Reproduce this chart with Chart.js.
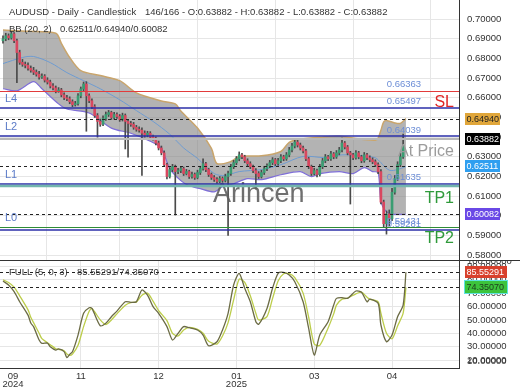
<!DOCTYPE html>
<html>
<head>
<meta charset="utf-8">
<script src="https://cdn.jsdelivr.net/npm/chart.js@4.4.1/dist/chart.umd.min.js"></script>
<style>
  html, body { margin: 0; padding: 0; background: #fff; }
  #wrap { position: relative; width: 520px; height: 390px; }
  .box { position: absolute; left: 0; width: 520px; }
</style>
</head>
<body>
<div id="wrap">
  <div class="box" style="top:0;height:261px"><canvas id="main"></canvas></div>
  <div class="box" style="top:261px;height:129px"><canvas id="stoch"></canvas></div>
</div>
<script>
// daily candles, oldest first
const opens = [
  0.6890,0.6900,0.6915,0.6905,0.6925,0.6890,0.6830,0.6780,0.6770,0.6765,
  0.6750,0.6740,0.6730,0.6720,0.6705,0.6710,0.6690,0.6680,0.6660,0.6650,
  0.6635,0.6640,0.6615,0.6600,0.6595,0.6580,0.6565,0.6570,0.6610,0.6645,
  0.6670,0.6610,0.6585,0.6555,0.6510,0.6480,0.6465,0.6495,0.6515,0.6525,
  0.6500,0.6515,0.6505,0.6490,0.6510,0.6480,0.6470,0.6465,0.6450,0.6440,
  0.6435,0.6420,0.6410,0.6420,0.6400,0.6395,0.6370,0.6345,0.6320,0.6260,
  0.6200,0.6235,0.6250,0.6225,0.6230,0.6240,0.6215,0.6225,0.6200,0.6210,
  0.6195,0.6220,0.6240,0.6265,0.6235,0.6210,0.6195,0.6185,0.6175,0.6190,
  0.6180,0.6200,0.6215,0.6250,0.6270,0.6290,0.6310,0.6300,0.6280,0.6265,
  0.6250,0.6230,0.6215,0.6200,0.6220,0.6240,0.6255,0.6270,0.6285,0.6265,
  0.6280,0.6300,0.6290,0.6310,0.6335,0.6355,0.6375,0.6360,0.6345,0.6330,
  0.6290,0.6250,0.6215,0.6230,0.6210,0.6250,0.6280,0.6300,0.6290,0.6315,
  0.6300,0.6320,0.6335,0.6370,0.6350,0.6320,0.6310,0.6295,0.6320,0.6300,
  0.6280,0.6310,0.6295,0.6285,0.6275,0.6260,0.6225,0.6070,0.5960,0.6010,
  0.5985,0.6120,0.6190,0.6260,0.6300,0.63882
];
const highs = [
  0.6915,0.6928,0.6925,0.6938,0.6932,0.6898,0.6842,0.6795,0.6782,0.6778,
  0.6762,0.6755,0.6742,0.6735,0.6722,0.6718,0.6702,0.6690,0.6672,0.6660,
  0.6652,0.6648,0.6625,0.6612,0.6605,0.6590,0.6582,0.6622,0.6655,0.6680,
  0.6682,0.6620,0.6595,0.6565,0.6520,0.6492,0.6508,0.6528,0.6536,0.6532,
  0.6526,0.6524,0.6515,0.6522,0.6518,0.6490,0.6480,0.6475,0.6460,0.6452,
  0.6448,0.6432,0.6430,0.6428,0.6410,0.6402,0.6380,0.6355,0.6330,0.6268,
  0.6245,0.6262,0.6258,0.6242,0.6252,0.6248,0.6236,0.6232,0.6222,0.6218,
  0.6232,0.6252,0.6290,0.6272,0.6242,0.6218,0.6205,0.6195,0.6200,0.6198,
  0.6212,0.6228,0.6262,0.6282,0.6302,0.6325,0.6318,0.6308,0.6290,0.6275,
  0.6258,0.6240,0.6225,0.6232,0.6252,0.6265,0.6282,0.6296,0.6292,0.6292,
  0.6312,0.6308,0.6322,0.6348,0.6368,0.6394,0.6385,0.6370,0.6355,0.6338,
  0.6298,0.6258,0.6242,0.6238,0.6262,0.6292,0.6312,0.6308,0.6328,0.6322,
  0.6332,0.6348,0.6395,0.6378,0.6358,0.6328,0.6318,0.6332,0.6328,0.6308,
  0.6322,0.6318,0.6305,0.6295,0.6285,0.6270,0.6235,0.6080,0.6025,0.6030,
  0.6140,0.6205,0.6275,0.6318,0.6415,0.63882
];
const lows = [
  0.6878,0.6890,0.6895,0.6898,0.6880,0.6677,0.6770,0.6760,0.6752,0.6740,
  0.6730,0.6718,0.6710,0.6695,0.6698,0.6680,0.6670,0.6650,0.6640,0.6625,
  0.6628,0.6605,0.6590,0.6585,0.6570,0.6555,0.6558,0.6562,0.6600,0.6635,
  0.6430,0.6575,0.6545,0.6500,0.6400,0.6455,0.6458,0.6485,0.6505,0.6490,
  0.6492,0.6495,0.6480,0.6482,0.6340,0.6298,0.6455,0.6440,0.6430,0.6425,
  0.6205,0.6400,0.6402,0.6390,0.6385,0.6360,0.6335,0.6310,0.6250,0.6188,
  0.6192,0.6225,0.6004,0.6215,0.6220,0.6205,0.6208,0.6190,0.6192,0.6185,
  0.6188,0.6210,0.6232,0.6225,0.6200,0.6185,0.6175,0.6165,0.6168,0.6170,
  0.6172,0.5900,0.6205,0.6240,0.6260,0.6280,0.6290,0.6270,0.6255,0.6240,
  0.6220,0.6135,0.6190,0.6192,0.6210,0.6230,0.6245,0.6260,0.6255,0.6258,
  0.6270,0.6280,0.6282,0.6300,0.6325,0.6345,0.6350,0.6335,0.6320,0.6280,
  0.6240,0.6205,0.6208,0.6198,0.6202,0.6240,0.6270,0.6280,0.6282,0.6290,
  0.6292,0.6310,0.6325,0.6340,0.6310,0.6060,0.6285,0.6288,0.6290,0.6270,
  0.6272,0.6285,0.6275,0.6265,0.6250,0.6215,0.6060,0.5945,0.5907,0.5950,
  0.5975,0.6110,0.6180,0.6250,0.6292,0.63882
];
const closes = [
  0.6900,0.6915,0.6905,0.6925,0.6890,0.6830,0.6780,0.6770,0.6765,0.6750,
  0.6740,0.6730,0.6720,0.6705,0.6710,0.6690,0.6680,0.6660,0.6650,0.6635,
  0.6640,0.6615,0.6600,0.6595,0.6580,0.6565,0.6570,0.6610,0.6645,0.6670,
  0.6610,0.6585,0.6555,0.6510,0.6480,0.6465,0.6495,0.6515,0.6525,0.6500,
  0.6515,0.6505,0.6490,0.6510,0.6480,0.6470,0.6465,0.6450,0.6440,0.6435,
  0.6420,0.6410,0.6420,0.6400,0.6395,0.6370,0.6345,0.6320,0.6260,0.6200,
  0.6235,0.6250,0.6225,0.6230,0.6240,0.6215,0.6225,0.6200,0.6210,0.6195,
  0.6220,0.6240,0.6265,0.6235,0.6210,0.6195,0.6185,0.6175,0.6190,0.6180,
  0.6200,0.6215,0.6250,0.6270,0.6290,0.6310,0.6300,0.6280,0.6265,0.6250,
  0.6230,0.6215,0.6200,0.6220,0.6240,0.6255,0.6270,0.6285,0.6265,0.6280,
  0.6300,0.6290,0.6310,0.6335,0.6355,0.6375,0.6360,0.6345,0.6330,0.6290,
  0.6250,0.6215,0.6230,0.6210,0.6250,0.6280,0.6300,0.6290,0.6315,0.6300,
  0.6320,0.6335,0.6370,0.6350,0.6320,0.6310,0.6295,0.6320,0.6300,0.6280,
  0.6310,0.6295,0.6285,0.6275,0.6260,0.6225,0.6070,0.5960,0.6010,0.5985,
  0.6120,0.6190,0.6260,0.6300,0.6355,0.63882
];
const totalBars = 166;

// bollinger bands (20, 2), read at bar indexes
const upperIdx = [0,9,19,21,24,28,35,42,48,57,62,64,70,75,77,82,85,93,100,103,107,114,121,129,134,135,136,137,138,141,143,145];
const upperVals = [0.6944,0.6938,0.6928,0.6877,0.6805,0.6738,0.6713,0.6687,0.6625,0.6584,0.6569,0.6533,0.6446,0.6343,0.6266,0.6276,0.6302,0.6305,0.6327,0.6374,0.6389,0.6399,0.6404,0.6389,0.6384,0.6395,0.6435,0.6478,0.6485,0.6472,0.6470,0.6494];
const lowerIdx = [0,5,11,14,20,23,31,39,46,53,57,60,64,67,71,76,79,83,88,93,100,107,111,114,121,126,130,133,135,136,138,140,145];
const lowerVals = [0.6646,0.6636,0.6682,0.6646,0.6569,0.6543,0.6523,0.6446,0.6420,0.6379,0.6343,0.6240,0.6179,0.6153,0.6138,0.6122,0.6148,0.6163,0.6189,0.6184,0.6209,0.6225,0.6199,0.6215,0.6225,0.6215,0.6245,0.6225,0.6220,0.6071,0.6020,0.6009,0.60082];
const midIdx = [0,7,11,17,23,29,35,42,48,54,60,65,70,76,80,85,93,100,108,116,122,129,134,136,139,142,145];
const midVals = [0.6774,0.6805,0.6810,0.6779,0.6728,0.6687,0.6646,0.6590,0.6535,0.6480,0.6415,0.6345,0.6292,0.6215,0.6205,0.6225,0.6235,0.6260,0.6302,0.6296,0.6310,0.6305,0.6295,0.6270,0.6232,0.6235,0.62511];
const bbNow = [0.62511, 0.64940, 0.60082]; // mid / upper / lower

// full stochastic %K / %D
const stochIdx = [0,2,4,6,9,10,11,13,14,16,17,19,20,22,23,24,25,27,29,31,32,35,37,39,41,44,46,48,50,52,54,56,59,61,63,65,67,70,72,74,77,79,81,83,85,87,89,91,92,95,97,99,101,103,105,108,110,112,114,117,119,120,122,124,127,129,131,132,135,136,138,140,142,144,145];
const kVals = [79.0,76.1,71.1,63.6,53.6,47.7,45.0,35.0,32.5,32.7,30.0,27.5,28.3,26.3,21.8,24.3,26.3,38.7,54.9,59.1,58.6,45.7,47.5,52.4,56.6,63.6,63.1,63.6,72.3,68.6,59.9,54.9,45.0,35.0,40.0,45.0,44.2,42.5,38.7,30.7,33.7,42.5,54.9,76.1,84.8,73.6,63.6,48.7,46.7,58.6,73.6,84.8,85.5,83.5,78.5,63.6,43.7,23.8,38.7,48.7,61.1,66.1,66.6,66.1,71.6,70.6,63.6,65.6,62.4,46.2,33.7,38.7,52.4,61.1,85.55291];
const dVals = [80.0,78.0,74.5,68.0,57.5,52.0,48.0,40.0,36.0,33.0,31.5,28.5,28.0,27.0,24.5,23.5,24.5,31.0,45.0,56.5,58.5,50.0,46.5,50.0,54.5,61.0,63.0,63.3,68.5,70.0,64.0,57.0,49.5,40.0,38.0,42.5,44.5,43.0,40.0,34.0,32.0,38.0,48.0,65.0,80.5,78.0,68.0,55.0,50.0,52.5,66.0,79.0,84.5,84.5,81.5,70.0,52.0,32.0,31.0,44.0,54.5,61.0,65.5,66.3,69.5,70.8,67.0,65.5,63.5,55.0,40.0,36.0,45.5,55.0,74.3507];
const stochNow = [85.55291, 74.35070];

// drawn levels
const levelPrices = [0.66363, 0.65497, 0.64039, 0.63882, 0.61635, 0.61500, 0.59431, 0.59281];
const levelLeft = ['', 'L4', 'L2', '', 'L1', '', 'L0', ''];
const levelRight = ['SL', '', '', 'At Price', '', 'TP1', 'TP2', ''];

// axis ticks
const priceTicks = [0.58, 0.59, 0.60, 0.61, 0.62, 0.63, 0.64, 0.65, 0.66, 0.67, 0.68, 0.69, 0.70];
const stochTicks = [20, 30, 40, 50, 60, 70, 80, 90];
const xTickIdx = [3.6, 28, 56, 84, 112, 140];
const xTickText = [['09', '2024'], '11', '12', ['01', '2025'], '03', '04'];

const FONT = '"Liberation Sans", Arial, sans-serif';
Chart.defaults.font.family = FONT;

const last = closes.length - 1;
const pts = (idx, vals) => idx.map((x, i) => ({ x: x, y: vals[i] }));

const levelStyle = [
  { color: '#e23b3b', width: 1, price: true, text: '#e02424' },
  { color: '#2b2fa8', width: 1.5, price: true },
  { color: '#2b2fa8', width: 1.5, price: true },
  { color: '#b8b8b8', width: 2, price: false, text: '#9c9c9c' },
  { color: '#2b2fa8', width: 1.5, price: true },
  { color: '#72b5ad', width: 2.5, price: false, text: '#2f9a3a' },
  { color: '#2e8b36', width: 1, price: true, text: '#2f9a3a' },
  { color: '#2b2fa8', width: 1.5, price: true }
];

function xAxis(showLabels) {
  return {
    type: 'linear', min: -1.08, max: 164.1, offset: false,
    grid: { color: c => c.index === 0 ? 'rgba(0,0,0,0)' : '#e6e6e6', drawTicks: false },
    border: { display: showLabels, color: '#333' },
    afterBuildTicks: s => { s.ticks = xTickIdx.map(v => ({ value: v })); },
    ticks: {
      display: showLabels, padding: 4, maxRotation: 0, autoSkip: false, color: '#333',
      font: { size: 9.5, lineHeight: 0.85 },
      callback: (v, i) => xTickText[i]
    },
    afterFit: s => { s.height = showLabels ? 22 : 0; s.paddingLeft = 0; s.paddingRight = 0; }
  };
}

function yAxis(min, max, tickVals) {
  return {
    position: 'right', min: min, max: max,
    afterBuildTicks: s => { s.ticks = tickVals.map(v => ({ value: v })); },
    grid: { color: '#e6e6e6', drawTicks: false },
    border: { color: '#333' },
    ticks: { color: '#333', padding: 8, font: { size: 9.5 }, callback: v => v.toFixed(5) },
    afterFit: s => { s.width = 61; s.paddingTop = 0; s.paddingBottom = 0; }
  };
}

function hline(ctx, a, yp, color, width, dash) {
  const y = width % 2 === 1 ? Math.round(yp) + 0.5 : Math.round(yp);
  ctx.beginPath();
  ctx.setLineDash(dash || []);
  ctx.strokeStyle = color;
  ctx.lineWidth = width;
  ctx.moveTo(a.left, y);
  ctx.lineTo(a.right, y);
  ctx.stroke();
  ctx.setLineDash([]);
}

function tag(ctx, a, yp, text, bg, fg, w) {
  ctx.fillStyle = bg;
  ctx.fillRect(a.right + 6, Math.round(yp) - 6, w, 12);
  ctx.fillStyle = fg;
  ctx.font = '9px ' + FONT;
  ctx.textAlign = 'left';
  ctx.textBaseline = 'middle';
  ctx.fillText(text, a.right + 7.5, Math.round(yp) + 0.5);
}

const mainOverlay = {
  id: 'mainOverlay',
  afterDatasetsDraw(chart) {
    const { ctx, chartArea: a, scales: { x, y } } = chart;
    ctx.save();
    // watermark
    ctx.font = '27px ' + FONT;
    ctx.fillStyle = 'rgba(95,95,95,0.9)';
    ctx.textAlign = 'left';
    ctx.textBaseline = 'middle';
    ctx.fillText('Arincen', a.left + a.width * 0.464, a.top + a.height * 0.745);

    // bollinger current values
    bbNow.forEach(v => hline(ctx, a, y.getPixelForValue(v), '#222', 1, [3, 3]));

    const xl = x.getPixelForValue(last);
    levelPrices.forEach((p, i) => {
      const st = levelStyle[i];
      const yp = y.getPixelForValue(p);
      hline(ctx, a, yp, st.color, st.width);
      ctx.textBaseline = 'middle';
      if (st.price) {
        ctx.font = '9.5px ' + FONT;
        ctx.fillStyle = '#6d8ed6';
        ctx.textAlign = 'center';
        ctx.fillText(p.toFixed(5), xl - 2, yp - 6);
      }
      if (levelLeft[i]) {
        ctx.font = '11px ' + FONT;
        ctx.fillStyle = '#5b7bc8';
        ctx.textAlign = 'left';
        ctx.fillText(levelLeft[i], a.left + 5, yp - 9);
      }
      if (levelRight[i]) {
        ctx.font = '16px ' + FONT;
        ctx.fillStyle = st.text;
        ctx.textAlign = 'right';
        ctx.fillText(levelRight[i], a.right - 5, yp + 12);
      }
    });
    ctx.restore();
  },
  afterDraw(chart) {
    const { ctx, chartArea: a, scales: { y } } = chart;
    ctx.save();
    tag(ctx, a, y.getPixelForValue(bbNow[1]), bbNow[1].toFixed(5), '#e0a63a', '#222', 35);
    tag(ctx, a, y.getPixelForValue(closes[last]), closes[last].toFixed(5), '#000', '#fff', 35);
    tag(ctx, a, y.getPixelForValue(bbNow[0]), bbNow[0].toFixed(5), '#2f9ff0', '#fff', 35);
    tag(ctx, a, y.getPixelForValue(bbNow[2]), bbNow[2].toFixed(5), '#6a48e6', '#fff', 35);

    ctx.font = '9.5px ' + FONT;
    ctx.fillStyle = '#333';
    ctx.textAlign = 'left';
    ctx.textBaseline = 'middle';
    ctx.fillText('AUDUSD - Daily - Candlestick', 9, 12);
    ctx.fillText((last + 1) + '/' + totalBars + ' - O:' + opens[last].toFixed(5) + ' - H:' + highs[last].toFixed(5) +
      ' - L:' + lows[last].toFixed(5) + ' - C:' + closes[last].toFixed(5), 145, 12);
    ctx.fillText('BB (20, 2)', 9, 29);
    ctx.fillText(bbNow.map(v => v.toFixed(5)).join('/'), 60, 29);

    // panel separator
    ctx.strokeStyle = '#333';
    ctx.lineWidth = 1;
    ctx.beginPath();
    ctx.moveTo(0, a.bottom - 0.5);
    ctx.lineTo(chart.width, a.bottom - 0.5);
    ctx.stroke();
    ctx.restore();
  }
};

const stochOverlay = {
  id: 'stochOverlay',
  afterDatasetsDraw(chart) {
    const { ctx, chartArea: a, scales: { y } } = chart;
    ctx.save();
    stochNow.forEach(v => hline(ctx, a, y.getPixelForValue(v), '#222', 1, [3, 3]));
    ctx.restore();
  },
  afterDraw(chart) {
    const { ctx, chartArea: a, scales: { y } } = chart;
    ctx.save();
    ctx.font = '9.5px ' + FONT;
    ctx.fillStyle = '#333';
    ctx.textAlign = 'left';
    ctx.textBaseline = 'middle';
    ctx.fillText('100.00000', a.right + 8, a.top);
    ctx.fillText('10.00000', a.right + 8, y.getPixelForValue(stochTicks[0]) + 1);

    const yk = y.getPixelForValue(stochNow[0]);
    const yd = y.getPixelForValue(stochNow[1]);
    tag(ctx, a, yk, stochNow[0].toFixed(5), '#d8402c', '#fff', 42);
    ctx.fillStyle = '#5fe3e0';
    ctx.fillRect(a.right + 5, Math.round(yd) - 7, 44, 14);
    tag(ctx, a, yd, stochNow[1].toFixed(5), '#3cc43c', '#1d3a1d', 42);

    ctx.font = '9.5px ' + FONT;
    ctx.fillStyle = '#333';
    ctx.textAlign = 'left';
    ctx.fillText('FULL (5, 0, 3)', 9, Math.round(yk) + 0.5);
    ctx.fillText(stochNow.map(v => v.toFixed(5)).join('/'), 77, Math.round(yk) + 0.5);
    ctx.restore();
  }
};

new Chart('main', {
  type: 'bar',
  data: {
    datasets: [
      { type: 'line', label: 'upper', data: pts(upperIdx, upperVals), borderColor: '#c9a56c', borderWidth: 1.5,
        pointRadius: 0, tension: 0.3, fill: false, order: 5 },
      { type: 'line', label: 'lower', data: pts(lowerIdx, lowerVals), borderColor: '#7f6fd8', borderWidth: 1.2,
        pointRadius: 0, tension: 0.3, fill: '-1', backgroundColor: 'rgba(128,128,128,0.6)', order: 6 },
      { type: 'line', label: 'mid', data: pts(midIdx, midVals), borderColor: '#6d9bd1', borderWidth: 1,
        pointRadius: 0, tension: 0.3, fill: false, order: 4 },
      { label: 'wicks', data: highs.map((h, i) => ({ x: i, y: [lows[i], h] })), backgroundColor: '#4a4a4a',
        barThickness: 1, grouped: false, order: 2 },
      { label: 'bodies', data: closes.map((c, i) => ({ x: i, y: [opens[i], c] })),
        backgroundColor: c => closes[c.dataIndex] >= opens[c.dataIndex] ? '#3a9d72' : '#d9475f',
        barThickness: 2, minBarLength: 1, grouped: false, order: 1 }
    ]
  },
  options: {
    responsive: true, maintainAspectRatio: false, animation: false, events: [],
    layout: { padding: 0 },
    plugins: { legend: { display: false }, tooltip: { enabled: false } },
    scales: { x: xAxis(false), y: yAxis(0.57705, 0.70971, priceTicks) }
  },
  plugins: [mainOverlay]
});

new Chart('stoch', {
  type: 'line',
  data: {
    datasets: [
      { label: '%D', data: pts(stochIdx, dVals), borderColor: '#bccd4a', borderWidth: 1.3, pointRadius: 0, tension: 0.25, order: 2 },
      { label: '%K', data: pts(stochIdx, kVals), borderColor: '#6b6b45', borderWidth: 1.3, pointRadius: 0, tension: 0.25, order: 1 }
    ]
  },
  options: {
    responsive: true, maintainAspectRatio: false, animation: false, events: [],
    layout: { padding: 0 },
    plugins: { legend: { display: false }, tooltip: { enabled: false } },
    scales: { x: xAxis(true), y: yAxis(14.1, 94.0, stochTicks) }
  },
  plugins: [stochOverlay]
});
</script>
</body>
</html>
